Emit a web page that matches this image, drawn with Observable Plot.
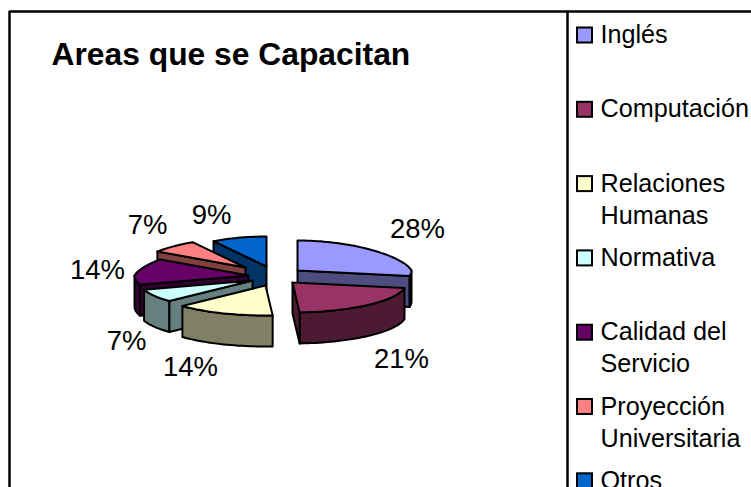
<!DOCTYPE html>
<html>
<head>
<meta charset="utf-8">
<script src="https://cdn.jsdelivr.net/npm/d3@7"></script>
<script src="https://cdn.jsdelivr.net/npm/@observablehq/plot@0.6"></script>
<style>
html,body{margin:0;padding:0;background:#fff;overflow:hidden}
svg{display:block}
</style>
</head>
<body>
<div id="chart"></div>
<script>
// Data
const title = "Areas que se Capacitan";
const categories = ["Inglés", "Computación", "Relaciones Humanas", "Normativa", "Calidad del Servicio", "Proyección Universitaria", "Otros"];
const shares = [28, 21, 14, 7, 14, 7, 9];
const colors = ["#9999FF", "#993366", "#FFFFCC", "#CCFFFF", "#660066", "#FF8080", "#0066CC"];
const legendLines = [["Inglés"], ["Computación"], ["Relaciones", "Humanas"], ["Normativa"], ["Calidad del", "Servicio"], ["Proyección", "Universitaria"], ["Otros"]];

// Layout of the exploded 3D pie
const apexX = [297, 292, 265, 252, 248, 245, 266];
const apexY = [270, 282, 285, 280, 275, 267, 266];
const labelX = [417, 401, 190, 126, 97, 147, 211];
const labelY = [237, 367, 375, 349, 278, 233, 223];
const paintOrder = [6, 5, 4, 3, 0, 2, 1];
const RX = 114, RX_BACK = 18, RY = 30, DEPTH = 31;

const rad = d => d * Math.PI / 180;
function rim(i, deg) {
  const s = Math.sin(rad(deg)), c = Math.cos(rad(deg));
  const rx = RX - RX_BACK * Math.max(0, c);
  return {x: apexX[i] + rx * s, y: apexY[i] - RY * c};
}
const drop = p => ({x: p.x, y: p.y + DEPTH});
const shade = hex => { const c = d3.rgb(hex); return d3.rgb(c.r / 2, c.g / 2, c.b / 2).formatHex(); };
const close = pts => [...pts, pts[0]];

let cum = 0;
const slices = shares.map((v, i) => {
  const a = cum * 3.6; cum += v; const b = cum * 3.6;
  return {i, a, b};
});

function arcPoints(i, a, b) {
  const n = Math.max(2, Math.ceil((b - a) / 2));
  return d3.range(n + 1).map(k => rim(i, a + (b - a) * k / n));
}

const faces = [];
for (const idx of paintOrder) {
  const {i, a, b} = slices[idx];
  const apex = {x: apexX[i], y: apexY[i]};
  const side = shade(colors[i]);
  // arc wall, only on the near half of the rim
  const lo = Math.max(a, 90), hi = Math.min(b, 270);
  if (hi > lo) {
    const arc = arcPoints(i, lo, hi);
    faces.push({pts: close([...arc, ...arc.slice().reverse().map(drop)]), fill: side});
  }
  // radial walls facing the viewer
  if (Math.sin(rad(a)) < 0) {
    const p = rim(i, a);
    faces.push({pts: close([apex, p, drop(p), drop(apex)]), fill: side});
  }
  if (Math.sin(rad(b)) > 1e-6) {
    const p = rim(i, b);
    faces.push({pts: close([apex, p, drop(p), drop(apex)]), fill: side});
  }
  // top face
  faces.push({pts: close([apex, ...arcPoints(i, a, b)]), fill: colors[i]});
}

const LEGEND_X = 577, SWATCH = 15, ROW0 = 27.5, ROW_STEP = 74.3, LINE = 32;
const legendBoxes = categories.map((c, i) => ({c, fill: colors[i], y: ROW0 + i * ROW_STEP}));
const legendText = legendLines.flatMap((lines, i) =>
  lines.map((t, k) => ({t, y: ROW0 + 15 + i * ROW_STEP + k * LINE})));
const pctLabels = shares.map((v, i) => ({t: v + "%", x: labelX[i], y: labelY[i]}));

const plot = Plot.plot({
  width: 751, height: 487, margin: 0,
  x: {domain: [0, 751], range: [0, 751], axis: null},
  y: {domain: [0, 487], range: [0, 487], axis: null},
  color: {type: "identity"},
  style: {background: "#fff", fontFamily: "'Liberation Sans', Arial, sans-serif", overflow: "hidden"},
  marks: [
    Plot.ruleY([11], {x1: 9, x2: 751, stroke: "#000", strokeWidth: 2.5}),
    Plot.ruleX([9], {y1: 11, y2: 487, stroke: "#000", strokeWidth: 2.5}),
    Plot.ruleX([567], {y1: 11, y2: 487, stroke: "#000", strokeWidth: 2.5}),
    ...faces.map(f => Plot.line(f.pts, {x: "x", y: "y", fill: f.fill, stroke: "#000", strokeWidth: 2, strokeLinejoin: "round"})),
    Plot.text(pctLabels, {x: "x", y: "y", text: "t", fontSize: 27.5, textAnchor: "middle", lineAnchor: "bottom", fill: "#000"}),
    Plot.text([title], {x: () => 51, y: () => 64, text: d => d, fontSize: 31.8, fontWeight: "bold", textAnchor: "start", lineAnchor: "bottom", fill: "#000"}),
    Plot.rect(legendBoxes, {x1: () => LEGEND_X, x2: () => LEGEND_X + SWATCH, y1: "y", y2: d => d.y + SWATCH, fill: "fill", stroke: "#000", strokeWidth: 2}),
    Plot.text(legendText, {x: () => 600, y: "y", text: "t", fontSize: 25.2, textAnchor: "start", lineAnchor: "bottom", fill: "#000"})
  ]
});
document.getElementById("chart").appendChild(plot);
</script>
</body>
</html>
